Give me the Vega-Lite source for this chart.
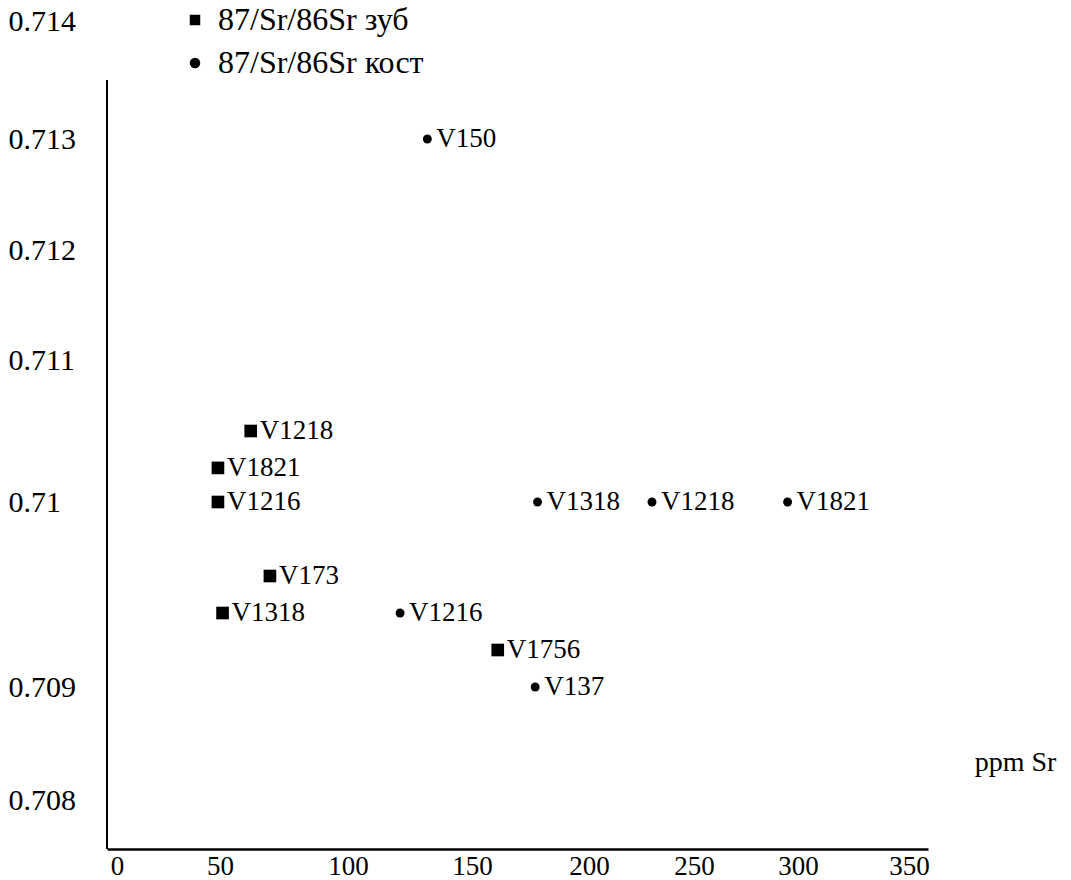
{
  "$schema": "https://vega.github.io/schema/vega-lite/v6.json",
  "width": 821,
  "height": 769,
  "autosize": {"type": "none"},
  "padding": {"left": 107, "top": 80, "right": 143, "bottom": 31},
  "background": "white",
  "config": {"view": {"stroke": null}, "font": "Liberation Serif, Times New Roman, DejaVu Serif, serif"},
  "data": {
    "values": [
      {"sample": "V150", "type": "87/Sr/86Sr кост", "sr": 132, "ratio": 0.713},
      {"sample": "V1318", "type": "87/Sr/86Sr кост", "sr": 178, "ratio": 0.71},
      {"sample": "V1218", "type": "87/Sr/86Sr кост", "sr": 230, "ratio": 0.71},
      {"sample": "V1821", "type": "87/Sr/86Sr кост", "sr": 295, "ratio": 0.71},
      {"sample": "V1216", "type": "87/Sr/86Sr кост", "sr": 121, "ratio": 0.7094},
      {"sample": "V137", "type": "87/Sr/86Sr кост", "sr": 177, "ratio": 0.709},
      {"sample": "V1218", "type": "87/Sr/86Sr зуб", "sr": 62, "ratio": 0.7105},
      {"sample": "V1821", "type": "87/Sr/86Sr зуб", "sr": 49, "ratio": 0.71024},
      {"sample": "V1216", "type": "87/Sr/86Sr зуб", "sr": 49, "ratio": 0.71},
      {"sample": "V173", "type": "87/Sr/86Sr зуб", "sr": 69.5, "ratio": 0.7096},
      {"sample": "V1318", "type": "87/Sr/86Sr зуб", "sr": 51, "ratio": 0.7094},
      {"sample": "V1756", "type": "87/Sr/86Sr зуб", "sr": 161, "ratio": 0.7092}
    ]
  },
  "encoding": {
    "x": {
      "field": "sr",
      "type": "quantitative",
      "scale": {
        "domain": [-4.85, 0, 50, 100, 150, 200, 250, 300, 350, 358.6],
        "range": [0, 10, 113, 241, 365, 482, 587, 691, 802, 821],
        "nice": false,
        "zero": false
      },
      "axis": {
        "values": [0, 50, 100, 150, 200, 250, 300, 350],
        "format": "d",
        "title": "ppm Sr",
        "grid": false,
        "ticks": false,
        "tickSize": 0,
        "labelPadding": 4,
        "labelFontSize": 27,
        "labelFont": "Liberation Serif, Times New Roman, DejaVu Serif, serif",
        "labelColor": "black",
        "labelBaseline": "top",
        "labelAlign": "center",
        "labelFlush": false,
        "labelOverlap": false,
        "domainColor": "black",
        "domainWidth": 2.5,
        "titleFont": "Liberation Serif, Times New Roman, DejaVu Serif, serif",
        "titleFontSize": 28,
        "titleFontWeight": "normal",
        "titleColor": "black",
        "titleX": 908,
        "titleY": -79,
        "titleAlign": "center",
        "titleBaseline": "alphabetic",
        "titleAnchor": null
      }
    },
    "y": {
      "field": "ratio",
      "type": "quantitative",
      "scale": {
        "domain": [0.70756, 0.708, 0.709, 0.71, 0.711, 0.712, 0.713, 0.714],
        "range": [769, 720, 607, 422, 280, 170, 59, -59],
        "nice": false,
        "zero": false
      },
      "axis": {
        "values": [0.708, 0.709, 0.71, 0.711, 0.712, 0.713, 0.714],
        "format": ".3~f",
        "title": null,
        "grid": false,
        "ticks": false,
        "tickSize": 0,
        "domain": false,
        "labelAlign": "left",
        "labelPadding": 99,
        "labelBaseline": "middle",
        "labelFont": "Liberation Serif, Times New Roman, DejaVu Serif, serif",
        "labelFontSize": 30,
        "labelColor": "black",
        "labelFlush": false,
        "labelOverlap": false
      }
    }
  },
  "layer": [
    {
      "mark": {"type": "rule", "stroke": "black", "strokeWidth": 2},
      "encoding": {
        "x": {"datum": -4.85, "type": "quantitative"},
        "y": {"datum": 0.70756, "type": "quantitative"},
        "y2": {"datum": 0.7135}
      }
    },
    {
      "mark": {"type": "point", "filled": true, "color": "black", "opacity": 1, "strokeWidth": 0},
      "encoding": {
        "shape": {
          "field": "type",
          "type": "nominal",
          "scale": {"domain": ["87/Sr/86Sr зуб", "87/Sr/86Sr кост"], "range": ["square", "circle"]},
          "legend": {
            "orient": "none",
            "legendX": 72,
            "legendY": -76,
            "title": null,
            "labelFont": "Liberation Serif, Times New Roman, DejaVu Serif, serif",
            "labelFontSize": 32,
            "labelColor": "black",
            "labelLimit": 500,
            "labelOffset": 7,
            "rowPadding": 11,
            "padding": 0,
            "symbolSize": 110,
            "symbolFillColor": "black",
            "symbolStrokeWidth": 0
          }
        },
        "size": {
          "condition": {"test": "datum.type === '87/Sr/86Sr зуб'", "value": 160},
          "value": 80
        }
      }
    },
    {
      "mark": {"type": "text", "align": "left", "baseline": "middle", "dx": 9, "font": "Liberation Serif, Times New Roman, DejaVu Serif, serif", "fontSize": 27, "color": "black"},
      "encoding": {"text": {"field": "sample", "type": "nominal"}}
    }
  ]
}
